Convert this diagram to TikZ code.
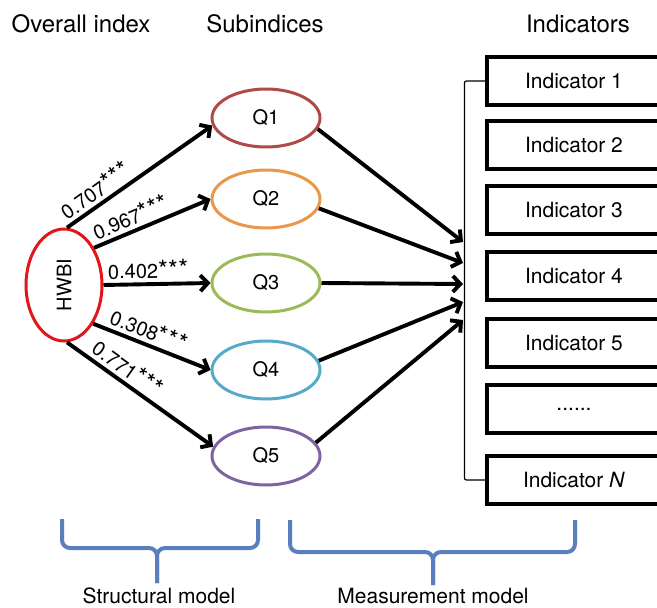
\documentclass[tikz,border=0pt]{standalone}
\usepackage{fontspec}
\setmainfont{TeX Gyre Heros}
\usetikzlibrary{arrows.meta,shapes.geometric}
\definecolor{hred}{HTML}{E0161A}
\definecolor{qone}{HTML}{B04A48}
\definecolor{qtwo}{HTML}{E8974B}
\definecolor{qthree}{HTML}{9BBB59}
\definecolor{qfour}{HTML}{55AACA}
\definecolor{qfive}{HTML}{7F63A1}
\definecolor{braceblue}{HTML}{5A7FBF}
\newcommand{\stars}{{\fontsize{25}{25}\selectfont *\kern0.5pt*\kern0.5pt*}}
\begin{document}
\begin{tikzpicture}[x=1pt,y=-1pt,
  titletext/.style={anchor=base,inner sep=0,font=\fontsize{24}{28}\selectfont},
  qnode/.style={ellipse,draw,line width=3pt,minimum width=108,minimum height=58,inner sep=0,font=\fontsize{20}{24}\selectfont},
  indbox/.style={draw,line width=3.2pt,minimum width=174,minimum height=48,inner sep=0,font=\fontsize{21}{25}\selectfont},
  arr/.style={line width=3.9pt,-{Straight Barb[length=7.5pt,width=16pt]}},
  coef/.style={sloped,above,inner sep=3.5pt,font=\fontsize{20}{24}\selectfont},
  bracestyle/.style={draw=braceblue,line width=4pt,rounded corners=8pt},
  bottomtext/.style={anchor=base,inner sep=0,font=\fontsize{21}{25}\selectfont}]
\useasboundingbox (0,0) rectangle (657,608);
\clip (0,0) rectangle (657,608);

% titles
\node[titletext] (tover) at (81,32) {Overall index};
\node[titletext] (tsub) at (265,32) {Subindices};
\node[titletext] (tind) at (578,32) {Indicators};

% overall index
\node[ellipse,draw=hred,line width=3pt,minimum width=76,minimum height=112,inner sep=0,
      font=\fontsize{20}{24}\selectfont] (h) at (64,285) {\rotatebox{90}{HWBI}};

% subindices
\node[qnode,draw=qone] (q1) at (266,118) {Q1};
\node[qnode,draw=qtwo] (q2) at (266,199) {Q2};
\node[qnode,draw=qthree] (q3) at (266,283) {Q3};
\node[qnode,draw=qfour] (q4) at (266,370) {Q4};
\node[qnode,draw=qfive] (q5) at (266,456) {Q5};

% indicators
\node[indbox] (b1) at (574,81) {Indicator 1};
\node[indbox] (b2) at (574,145) {Indicator 2};
\node[indbox] (b3) at (574,210) {Indicator 3};
\node[indbox] (b4) at (574,276) {Indicator 4};
\node[indbox] (b5) at (574,343) {Indicator 5};
\node[indbox] (b6) at (574,409) {......};
\node[indbox] (bN) at (574,480) {Indicator \textit{N}};

% bracket joining indicators
\draw[line width=1.2pt,rounded corners=2pt] (b1.west) -- ++(-21,0) coordinate (bk) |- (bN.west);

% arrow targets on the bracket
\coordinate (t1) at (463,242);
\coordinate (t2) at (463,263);
\coordinate (t3) at (463,284);
\coordinate (t4) at (463,302);
\coordinate (t5) at (463,320);

% structural model arrows
\draw[arr] (h.87) -- node[coef,pos=0.25] {0.707\stars} (q1.188);
\draw[arr] (h.51) -- node[coef,pos=0.36] {0.967\stars} (q2.west);
\draw[arr] (h.east) -- node[coef,pos=0.42] {0.402\stars} (q3.west);
\draw[arr] (h.-53) -- node[coef,pos=0.43] {0.308\stars} (q4.west);
\draw[arr] (h.-87) -- node[coef,pos=0.36] {0.771\stars} (q5.170);

% measurement model arrows
\draw[arr] (q1.-12) -- (t1);
\draw[arr] (q2.-10) -- (t2);
\draw[arr] (q3.east) -- (t3);
\draw[arr] (q4.10) -- (t4);
\draw[arr] (q5.15) -- (t5);

% braces
\draw[bracestyle] (62,519) |- (157,548) -- (157,583);
\draw[bracestyle] (258,519) |- (157,548) -- (157,583);
\draw[bracestyle] (290,520) |- (433,552) -- (433,585);
\draw[bracestyle] (575,520) |- (433,552) -- (433,585);

\node[bottomtext] (ls) at (159,603) {Structural model};
\node[bottomtext] (lm) at (433,603) {Measurement model};
\end{tikzpicture}
\end{document}
